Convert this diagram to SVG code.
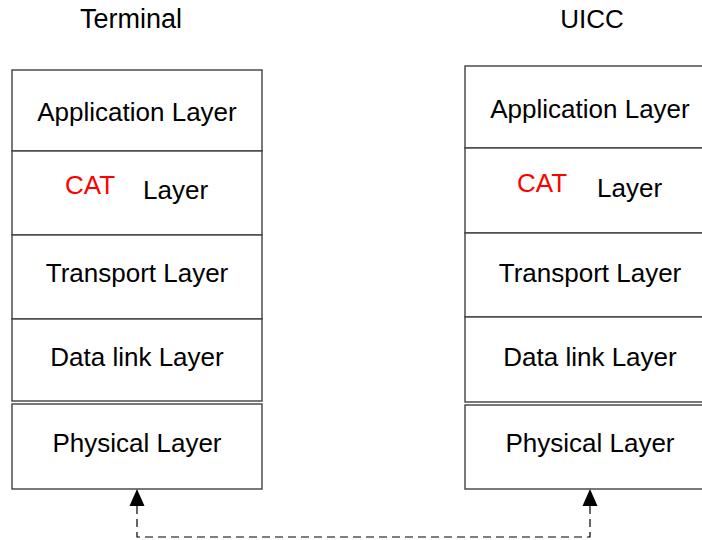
<svg xmlns="http://www.w3.org/2000/svg" width="702" height="540" viewBox="0 0 702 540">
<defs>
<style>
.box{fill:#fff;stroke:#404040;stroke-width:1.4}
.t{font-family:"Liberation Sans",Arial,sans-serif;font-size:26px;fill:#000;text-anchor:middle}
.s{font-family:"Liberation Sans",Arial,sans-serif;font-size:26px;fill:#000}
.red{fill:#ff0000}
.conn{fill:none;stroke:#000;stroke-width:1.2;stroke-dasharray:8 5}
.head{fill:#000}
</style>
</defs>
<rect width="702" height="540" fill="#fff"/>
<text class="t" x="131" y="28" style="font-size:27px">Terminal</text>
<text class="t" x="592" y="28">UICC</text>
<g id="terminal">
<g id="t-app"><rect class="box" x="12" y="70" width="250" height="81"/><text class="t" x="137" y="121">Application Layer</text></g>
<g id="t-cat"><rect class="box" x="12" y="151" width="250" height="84"/><text class="s red" x="65" y="194">CAT</text><text class="s" x="143" y="199">Layer</text></g>
<g id="t-transport"><rect class="box" x="12" y="235" width="250" height="84"/><text class="t" x="137" y="282">Transport Layer</text></g>
<g id="t-datalink"><rect class="box" x="12" y="319" width="250" height="82"/><text class="t" x="137" y="366">Data link Layer</text></g>
<g id="t-physical"><rect class="box" x="12" y="404" width="250" height="85"/><text class="t" x="137" y="452">Physical Layer</text></g>
</g>
<g id="uicc">
<g id="u-app"><rect class="box" x="465" y="66" width="250" height="82"/><text class="t" x="590" y="118">Application Layer</text></g>
<g id="u-cat"><rect class="box" x="465" y="148" width="250" height="85"/><text class="s red" x="517" y="192">CAT</text><text class="s" x="597" y="197">Layer</text></g>
<g id="u-transport"><rect class="box" x="465" y="233" width="250" height="84"/><text class="t" x="590" y="282">Transport Layer</text></g>
<g id="u-datalink"><rect class="box" x="465" y="317" width="250" height="85"/><text class="t" x="590" y="366">Data link Layer</text></g>
<g id="u-physical"><rect class="box" x="465" y="405" width="250" height="84"/><text class="t" x="590" y="452">Physical Layer</text></g>
</g>
<g id="connectors">
<path class="conn" d="M137,506 V537 H590 V506"/>
<polygon class="head" points="137,489 129.5,506 144.5,506"/>
<polygon class="head" points="590,489 582.5,506 597.5,506"/>
</g>
</svg>
